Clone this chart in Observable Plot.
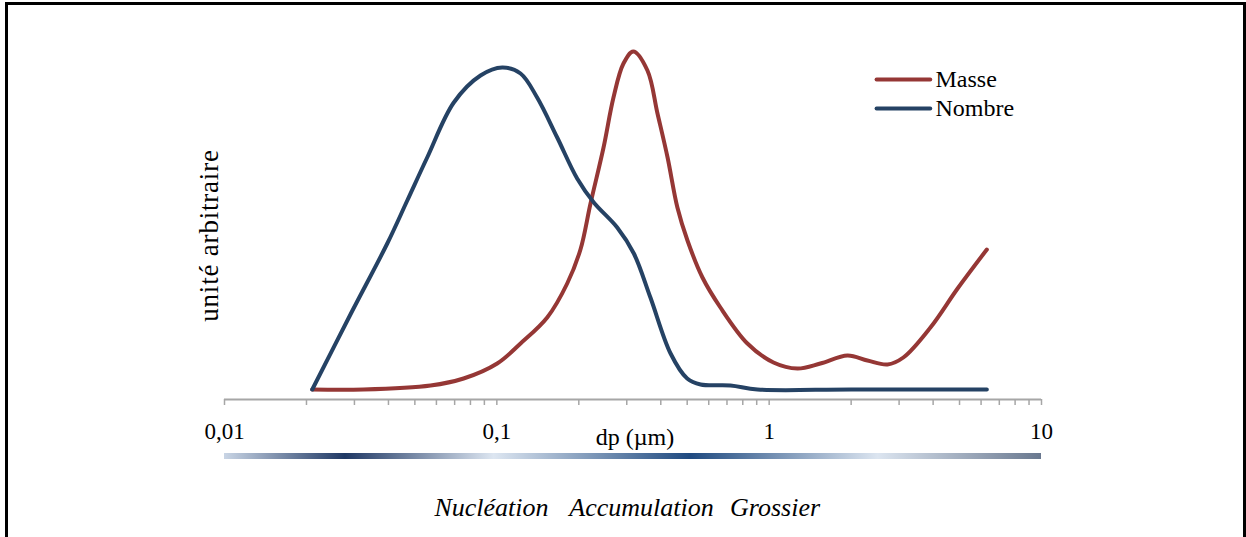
<!DOCTYPE html>
<html>
<head>
<meta charset="utf-8">
<script src="https://cdn.jsdelivr.net/npm/d3@7"></script>
<script src="https://cdn.jsdelivr.net/npm/@observablehq/plot@0.6"></script>
<style>
html, body { margin: 0; padding: 0; background: #fff; overflow: hidden; }
#wrap { position: relative; width: 1246px; height: 537px; overflow: hidden; }
#frame { position: absolute; left: 5px; top: 2px; width: 1241px; height: 640px; border: 3px solid #000; box-sizing: border-box; pointer-events: none; }
#chart { position: absolute; left: 0; top: 0; }
#chart svg, #chart svg text { font-family: "Liberation Serif", "Times New Roman", serif !important; }
.ylab { letter-spacing: 0.8px; }
</style>
</head>
<body>
<div id="wrap"><div id="chart"></div><div id="frame"></div></div>
<script>
// ---- Data ----
const seriesNames = ["Masse", "Nombre"];
const seriesColors = ["#953735", "#254264"];

const masseDp  = [0.021, 0.0324, 0.0571, 0.0755, 0.1003, 0.1222, 0.1531, 0.1813, 0.2028, 0.2208, 0.2465, 0.2681, 0.2917, 0.317, 0.3573, 0.389, 0.4236, 0.4603, 0.5012, 0.5689, 0.6622, 0.832, 1.037, 1.271, 1.542, 1.94, 2.296, 2.72, 3.11, 3.91, 4.92, 6.3];
const masseVal = [0, 0, 4, 11, 26, 46, 72, 106, 140, 186, 242, 292, 326, 338, 319, 276, 232, 182, 149, 112, 82, 46, 27, 21, 26, 34, 29, 25, 32, 62, 101, 140];

const nombreDp  = [0.021, 0.029, 0.0396, 0.0469, 0.0555, 0.0695, 0.0871, 0.1047, 0.1222, 0.1406, 0.1666, 0.1972, 0.227, 0.2767, 0.3185, 0.3664, 0.4345, 0.5, 0.56, 0.721, 0.906, 2, 6.3];
const nombreVal = [0, 75, 146, 189, 232, 287, 314, 322, 316, 292, 252, 211, 187, 162, 136, 92, 36, 11, 5, 4, 0, 0, 0];

const decades = [0.01, 0.1, 1, 10];
const tickLabels = ["0,01", "0,1", "1", "10"];
const xLabel = "dp (µm)";
const yLabel = "unité arbitraire";
const captionWords = ["Nucléation", "Accumulation", "Grossier"];

// ---- Derived tables ----
const masse = masseDp.map((x, i) => ({x, y: masseVal[i]}));
const nombre = nombreDp.map((x, i) => ({x, y: nombreVal[i]}));
const tickValues = [];
for (const d of decades.slice(0, 3)) for (let k = 1; k < 10; k++) tickValues.push(+(k * d).toPrecision(3));
tickValues.push(10);
const labelOf = v => { const i = decades.findIndex(d => Math.abs(d - v) < 1e-9); return i >= 0 ? tickLabels[i] : ""; };

const serif = "Liberation Serif";

const chart = Plot.plot({
  width: 1246,
  height: 537,
  marginLeft: 224,
  marginRight: 205,
  marginTop: 39,
  marginBottom: 138,
  x: {type: "log", domain: [0.01, 10]},
  y: {domain: [-10, 350], axis: null},
  style: {fontFamily: serif, background: "transparent", color: "#000"},
  marks: [
    Plot.ruleY([-10], {stroke: "#a6a6a6", strokeWidth: 2}),
    Plot.axisX({ticks: tickValues, tickFormat: labelOf, tickSize: 6, tickPadding: 17, fontSize: 23, fontFamily: serif, stroke: "#a6a6a6", strokeWidth: 1.5, fill: "#000", label: null}),
    Plot.text([xLabel], {frameAnchor: "bottom", dx: 2, dy: 38, fontSize: 24, fontFamily: serif, lineAnchor: "middle"}),
    Plot.text([yLabel], {frameAnchor: "left", textAnchor: "middle", rotate: -90, dx: -15, dy: 16, fontSize: 27, fontFamily: serif, lineAnchor: "middle", className: "ylab"}),
    Plot.rect([0], {x1: 0.01, x2: 10, y1: -70, y2: -64, fill: "url(#bandGrad)"}),
    Plot.text(captionWords, {x: [0.0956, 0.3398, 1.051], frameAnchor: "bottom", dy: 108, fontSize: 26, fontFamily: serif, fontStyle: "italic", lineAnchor: "middle"}),
    Plot.line(masse, {x: "x", y: "y", stroke: seriesColors[0], strokeWidth: 4, curve: "catmull-rom", strokeLinecap: "round", strokeLinejoin: "round"}),
    Plot.line(nombre, {x: "x", y: "y", stroke: seriesColors[1], strokeWidth: 4, curve: "catmull-rom", strokeLinecap: "round", strokeLinejoin: "round"}),
    Plot.ruleY([seriesNames[0]], {y: 310, x1: 2.49, x2: 3.92, stroke: seriesColors[0], strokeWidth: 4, strokeLinecap: "round"}),
    Plot.ruleY([seriesNames[1]], {y: 281, x1: 2.49, x2: 3.92, stroke: seriesColors[1], strokeWidth: 4, strokeLinecap: "round"}),
    Plot.text([seriesNames[0]], {x: 4.08, y: 310, textAnchor: "start", fontSize: 24, fontFamily: serif, lineAnchor: "middle"}),
    Plot.text([seriesNames[1]], {x: 4.08, y: 281, textAnchor: "start", fontSize: 24, fontFamily: serif, lineAnchor: "middle"})
  ]
});

// gradient definition for the size-mode band
const svg = d3.select(chart);
const defs = svg.insert("defs", ":first-child");
const grad = defs.append("linearGradient").attr("id", "bandGrad").attr("x1", "0%").attr("x2", "100%").attr("y1", "0%").attr("y2", "0%");
[[0, "#c9d5e5"], [0.148, "#1f3864"], [0.33, "#dde6f1"], [0.57, "#1f4a80"], [0.80, "#dce5f0"], [1, "#69788f"]]
  .forEach(([o, c]) => grad.append("stop").attr("offset", o).attr("stop-color", c));

document.getElementById("chart").appendChild(chart);
</script>
</body>
</html>
